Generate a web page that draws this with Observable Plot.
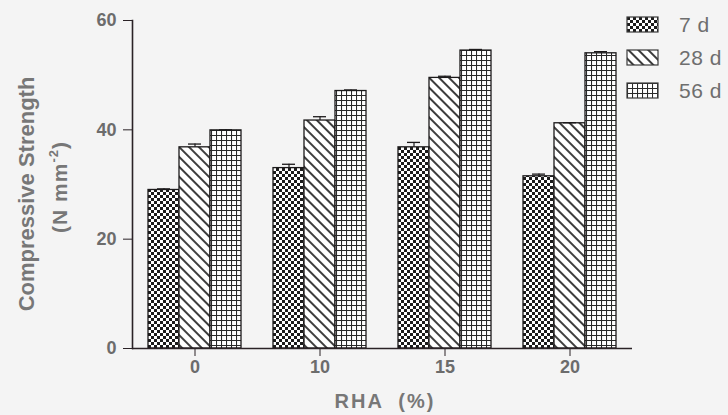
<!DOCTYPE html>
<html>
<head>
<meta charset="utf-8">
<script src="https://cdn.jsdelivr.net/npm/d3@7"></script>
<script src="https://cdn.jsdelivr.net/npm/@observablehq/plot@0.6"></script>
<style>
  html, body { margin: 0; padding: 0; background: #f4f4f4; }
  #chart { position: relative; width: 728px; height: 415px; overflow: hidden;
           font-family: "Liberation Sans", Arial, sans-serif; }
  #chart svg { display: block; }
</style>
</head>
<body>
<!-- hatch fills shared by the bars and the legend -->
<svg width="0" height="0" style="position:absolute">
  <defs>
    <pattern id="fill-7d" width="6" height="6" patternUnits="userSpaceOnUse">
      <rect width="6" height="6" fill="#ffffff"/>
      <rect x="0" y="0" width="3" height="3" fill="#1b1b1b"/>
      <rect x="3" y="3" width="3" height="3" fill="#1b1b1b"/>
    </pattern>
    <pattern id="fill-28d" width="7" height="7" patternUnits="userSpaceOnUse" patternTransform="rotate(-45)">
      <rect width="7" height="7" fill="#ffffff"/>
      <line x1="1" y1="0" x2="1" y2="7" stroke="#1b1b1b" stroke-width="1.7"/>
    </pattern>
    <pattern id="fill-56d" width="5" height="5" patternUnits="userSpaceOnUse">
      <rect width="5" height="5" fill="#ffffff"/>
      <path d="M0,0.5H5M0.5,0V5" stroke="#2a2a2a" stroke-width="1.1"/>
    </pattern>
  </defs>
</svg>
<div id="chart"></div>
<script>
// RHA replacement level (%) and curing age
const categories = ["0", "10", "15", "20"];
const series = ["7 d", "28 d", "56 d"];

// mean compressive strength (N mm^-2) per RHA level
const strength7d = [29.0, 33.0, 36.8, 31.5];
const strength28d = [36.8, 41.7, 49.5, 41.2];
const strength56d = [39.9, 47.1, 54.5, 54.0];

// standard errors
const err7d = [0.2, 0.7, 0.9, 0.4];
const err28d = [0.6, 0.7, 0.3, 0.1];
const err56d = [0.1, 0.2, 0.2, 0.3];

const yTicks = [0, 20, 40, 60];
const fills = ["url(#fill-7d)", "url(#fill-28d)", "url(#fill-56d)"];

const values = [strength7d, strength28d, strength56d];
const errors = [err7d, err28d, err56d];
const rows = categories.flatMap((c, i) =>
  series.map((s, j) => ({ rha: c, age: s, value: values[j][i], err: errors[j][i] }))
);

const ink = "#2a2226";
const textGray = "#6c6c6c";

const chart = Plot.plot({
  width: 728,
  height: 415,
  marginLeft: 131,
  marginRight: 96,
  marginTop: 20,
  marginBottom: 67,
  style: { background: "transparent", fontFamily: "'Liberation Sans', Arial, sans-serif", overflow: "visible" },
  fx: { domain: categories, padding: 0, label: null },
  x: { domain: series, axis: null, paddingInner: 0, paddingOuter: 0.5 },
  y: { domain: [0, 60], label: null, axis: null },
  color: { domain: series, range: fills },
  marks: [
    Plot.barY(rows, { fx: "rha", x: "age", y: "value", fill: "age", stroke: "#1c1a1b", strokeWidth: 1.3 }),
    Plot.ruleX(rows, { fx: "rha", x: "age", y1: "value", y2: d => d.value + d.err, stroke: "#1c1a1b", strokeWidth: 1.2 }),
    Plot.tickY(rows, { fx: "rha", x: "age", y: d => d.value + d.err, stroke: "#1c1a1b", strokeWidth: 1.3, insetLeft: 9, insetRight: 9 }),
    Plot.ruleY([0], { stroke: ink, strokeWidth: 1.6 }),
    Plot.frame({ anchor: "left", facetAnchor: "left", stroke: ink, strokeWidth: 1.6 }),
    Plot.axisY({ ticks: yTicks, tickSize: 9, tickPadding: 7, fontSize: 18, fontWeight: "bold",
                 stroke: ink, fill: textGray, label: null }),
    Plot.axisFx({ anchor: "bottom", tickSize: 8, tickPadding: 4, fontSize: 18, fontWeight: "bold",
                  stroke: ink, fill: textGray, label: null })
  ]
});

document.getElementById("chart").appendChild(chart);

const svg = d3.select(chart);

// y-axis title in two lines
svg.append("text")
  .attr("transform", "translate(34,194) rotate(-90)")
  .attr("text-anchor", "middle")
  .attr("font-size", 22).attr("font-weight", "bold").attr("fill", "#777777")
  .text("Compressive Strength");

const unit = svg.append("text")
  .attr("transform", "translate(67,187) rotate(-90)")
  .attr("text-anchor", "middle")
  .attr("font-size", 21).attr("font-weight", "bold").attr("fill", "#777777")
  .attr("letter-spacing", 1);
unit.append("tspan").text("(N mm");
unit.append("tspan").attr("font-size", 13).attr("dy", -9).text("-2");
unit.append("tspan").attr("dy", 9).text(")");

// x-axis title
svg.append("text")
  .attr("x", 385).attr("y", 408)
  .attr("text-anchor", "middle")
  .attr("font-size", 20).attr("font-weight", "bold").attr("fill", "#777777")
  .attr("letter-spacing", 2)
  .attr("xml:space", "preserve")
  .text("RHA  (%)");

// legend
const legend = svg.append("g").attr("transform", "translate(627,17)");
series.forEach((s, i) => {
  const g = legend.append("g").attr("transform", `translate(0,${i * 33})`);
  g.append("rect").attr("width", 31).attr("height", 15)
    .attr("fill", fills[i]).attr("stroke", "#3a3a3a").attr("stroke-width", 1.2);
  g.append("text").attr("x", 52).attr("y", 15)
    .attr("text-anchor", "start")
    .attr("font-size", 21).attr("fill", "#6e6e6e").attr("letter-spacing", 0.5)
    .text(s);
});
</script>
</body>
</html>
